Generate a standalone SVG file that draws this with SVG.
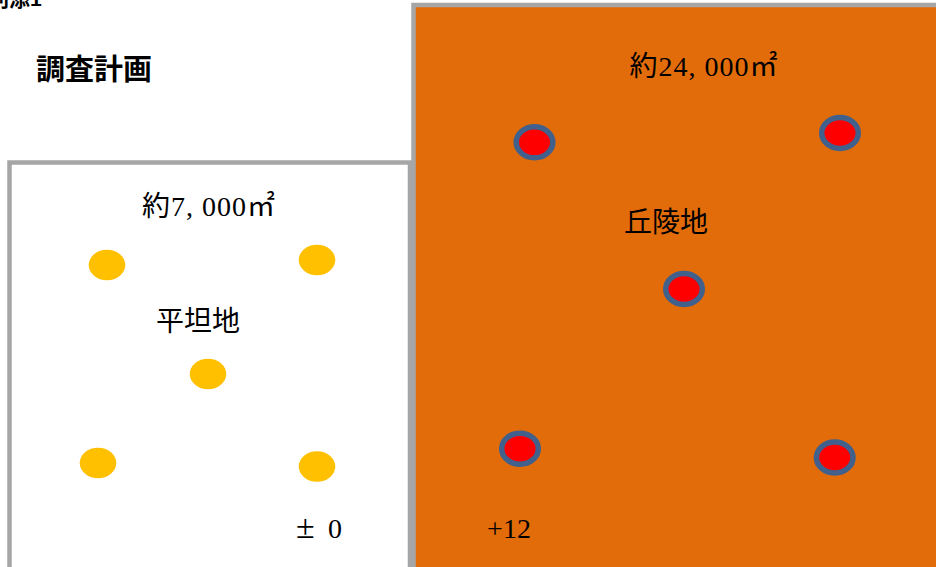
<svg xmlns="http://www.w3.org/2000/svg" width="936" height="567" viewBox="0 0 936 567">
<style>
.area{stroke:#A6A6A6;stroke-width:4.5}
.y{fill:#FFC000}
.r{fill:#FF0000;stroke:#41608C;stroke-width:5.5}
.lbl{font-family:"Liberation Serif","Noto Sans CJK JP",serif;font-size:28px;fill:#000}
.ttl{font-family:"Liberation Sans","Noto Sans CJK JP",sans-serif;font-weight:bold;fill:#000}
</style>
<rect width="936" height="567" fill="#FFFFFF"/>
<text class="ttl" x="-12" y="6" font-size="21">別添1</text>
<text class="ttl" x="36" y="80" font-size="29">調査計画</text>
<g id="flat">
<rect class="area" x="9.5" y="162.5" width="400.5" height="410" fill="#FFFFFF"/>
<ellipse class="y" cx="107" cy="265" rx="18.3" ry="15.3"/>
<ellipse class="y" cx="317" cy="260" rx="18.3" ry="15.3"/>
<ellipse class="y" cx="208" cy="374" rx="18.3" ry="15.3"/>
<ellipse class="y" cx="98" cy="463" rx="18.3" ry="15.3"/>
<ellipse class="y" cx="317" cy="466.5" rx="18.3" ry="15.3"/>
<text class="lbl" x="209" y="216" text-anchor="middle" letter-spacing="1">約7, 000㎡</text>
<text class="lbl" x="198" y="331" text-anchor="middle">平坦地</text>
<text class="lbl" x="296" y="538"><tspan font-size="34">±</tspan><tspan x="328">0</tspan></text>
</g>
<g id="hill">
<rect class="area" x="413.5" y="5" width="530" height="570" fill="#E36C0A"/>
<ellipse class="r" cx="534.5" cy="142.3" rx="18.3" ry="15.5"/>
<ellipse class="r" cx="840" cy="133" rx="18.3" ry="15.5"/>
<ellipse class="r" cx="684" cy="289" rx="18.3" ry="15.5"/>
<ellipse class="r" cx="520" cy="448.7" rx="18.3" ry="15.5"/>
<ellipse class="r" cx="834.7" cy="457.5" rx="18.3" ry="15.5"/>
<text class="lbl" x="704" y="76" text-anchor="middle" letter-spacing="1">約24, 000㎡</text>
<text class="lbl" x="666" y="232" text-anchor="middle">丘陵地</text>
<text class="lbl" x="509" y="538" text-anchor="middle">+12</text>
</g>
</svg>
